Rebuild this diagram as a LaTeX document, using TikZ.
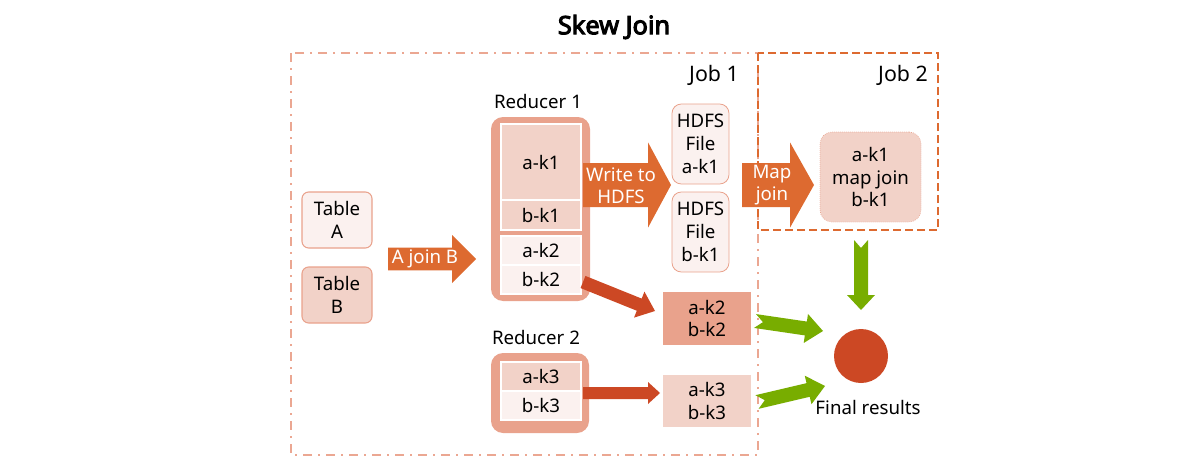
\documentclass[tikz,border=0pt]{standalone}
\usepackage{fontspec}
\setmainfont{Noto Sans}
\newfontfamily\titlefont{Noto Sans}[FakeBold=4]
\usetikzlibrary{calc}
\definecolor{salmon}{HTML}{E9A28C}
\definecolor{lightp}{HTML}{F2D2C8}
\definecolor{vlight}{HTML}{FBF1EF}
\definecolor{orangeA}{HTML}{DD6A30}
\definecolor{redA}{HTML}{CC4824}
\definecolor{greenA}{HTML}{78AD00}
\definecolor{jobone}{HTML}{EBA792}
\newcommand\blockarrow[7]{%
  \coordinate (ba-h) at ($(#2)!#5!(#1)$);
  \fill[#7] ($(#1)!#3!90:(#2)$) -- ($(ba-h)!#3!90:(#2)$) -- ($(ba-h)!#4!90:(#2)$) -- (#2)
    -- ($(ba-h)!#4!-90:(#2)$) -- ($(ba-h)!#3!-90:(#2)$) -- ($(#1)!#3!-90:(#2)$)
    -- ($(#1)!#6!(#2)$) -- cycle;}
\begin{document}
\begin{tikzpicture}[x=0.75pt,y=-0.75pt,
  font=\fontsize{14}{17.2}\selectfont,
  sz/.style 2 args={minimum width=#1*0.75pt, minimum height=#2*0.75pt, inner sep=0pt},
  tablebox/.style={draw=salmon, line width=0.8pt, rounded corners=5pt, align=center},
  outerbox/.style={fill=salmon, rounded corners=9pt},
  cell/.style={draw=white, line width=0.9pt},
  hdfs/.style={fill=vlight, draw=salmon, line width=0.6pt, rounded corners=7pt, align=center},
  plainbox/.style={align=center},
  arrowtext/.style={text=white, align=center},
  jobonebox/.style={draw=jobone, line width=1.5pt, dash pattern=on 6.75pt off 4.5pt on 1.5pt off 4.5pt},
  jobtwobox/.style={draw=orangeA, line width=1.8pt, dash pattern=on 6pt off 3pt},
  joblabel/.style={font=\fontsize{16}{19}\selectfont}
]
\useasboundingbox (0,0) rectangle (1204,464);

% title
\node[font=\fontsize{19}{22}\titlefont] (title) at (614,27) {Skew Join};

% job boxes
\draw[jobonebox] (291,53) rectangle (758,455);
\draw[jobtwobox] (758,53) rectangle (938,230);
\node[joblabel] (job1) at (714,75) {Job 1};
\node[joblabel] (job2) at (903,75) {Job 2};

% tables
\node[tablebox, fill=vlight, sz={70}{56}] (tA) at (337,220) {Table\\A};
\node[tablebox, fill=lightp, sz={70}{56}] (tB) at (337,295) {Table\\B};

% reducer 1
\node (r1label) at (538,101) {Reducer 1};
\node[outerbox, sz={99}{184}] (r1) at (540.5,209) {};
\node[cell, fill=lightp, sz={80}{76}] (ak1) at (541,162) {a-k1};
\node[cell, fill=lightp, sz={80}{30}] (bk1) at (541,215) {b-k1};
\node[cell, fill=vlight, sz={80}{29}] (ak2) at (541,250.5) {a-k2};
\node[cell, fill=vlight, sz={80}{29}] (bk2) at (541,279.5) {b-k2};

% reducer 2
\node (r2label) at (536,337) {Reducer 2};
\node[outerbox, sz={98}{80}] (r2) at (540,393) {};
\node[cell, fill=lightp, sz={80}{29}] (ak3) at (541,376.5) {a-k3};
\node[cell, fill=vlight, sz={80}{29}] (bk3) at (541,405.5) {b-k3};

% hdfs files
\node[hdfs, sz={57}{80}] (h1) at (700.5,144) {HDFS\\File\\a-k1};
\node[hdfs, sz={57}{80}] (h2) at (700.5,232) {HDFS\\File\\b-k1};

% map join box
\node[fill=lightp, draw=salmon, densely dotted, line width=0.5pt, rounded corners=9pt, align=center, sz={101}{90}] (mj) at (870.5,177) {a-k1\\map join\\b-k1};

% result boxes
\node[plainbox, fill=salmon, sz={88}{53}] (k2box) at (707,318.5) {a-k2\\b-k2};
\node[plainbox, fill=lightp, sz={88}{52}] (k3box) at (707,401) {a-k3\\b-k3};

% final
\node[circle, fill=redA, minimum size=54*0.75pt, inner sep=0pt] (fin) at (861,356) {};
\node (finlabel) at (868,407) {Final results};

% arrow anchor coordinates
\coordinate (ajbS) at (388,259);  \coordinate (ajbE) at (476,259);
\coordinate (wthS) at (583,185);  \coordinate (wthE) at (671,185);
\coordinate (mjS) at (742,185);   \coordinate (mjE) at (814,185);
\coordinate (rdAS) at (583,282);  \coordinate (rdAE) at (655,311);
\coordinate (rdBS) at (583,393);  \coordinate (rdBE) at (660,393);
\coordinate (gdS) at (861,240);   \coordinate (gdE) at (861,310);
\coordinate (guS) at (755,321);   \coordinate (guE) at (823,331);
\coordinate (glS) at (757,402);   \coordinate (glE) at (825,386);

\blockarrow{ajbS}{ajbE}{8.6pt}{18pt}{18pt}{0pt}{orangeA}
\blockarrow{wthS}{wthE}{16.5pt}{32pt}{17.25pt}{0pt}{orangeA}
\blockarrow{mjS}{mjE}{16.5pt}{32pt}{18pt}{0pt}{orangeA}
\blockarrow{rdAS}{rdAE}{4.9pt}{10.5pt}{12.75pt}{0pt}{redA}
\blockarrow{rdBS}{rdBE}{4.5pt}{8.25pt}{9pt}{0pt}{redA}
\blockarrow{gdS}{gdE}{5.25pt}{10.5pt}{11.25pt}{6pt}{greenA}
\blockarrow{guS}{guE}{5.25pt}{11pt}{13pt}{6pt}{greenA}
\blockarrow{glS}{glE}{5.25pt}{11pt}{13pt}{6pt}{greenA}

\node[arrowtext] (ajbT) at (425,259) {A join B};
\node[arrowtext, font=\fontsize{14}{16.5}\selectfont] (wthT) at (621,186) {Write to\\HDFS};
\node[arrowtext, font=\fontsize{14}{16.5}\selectfont] (mjT) at (772,185) {Map\\join};
\end{tikzpicture}
\end{document}
